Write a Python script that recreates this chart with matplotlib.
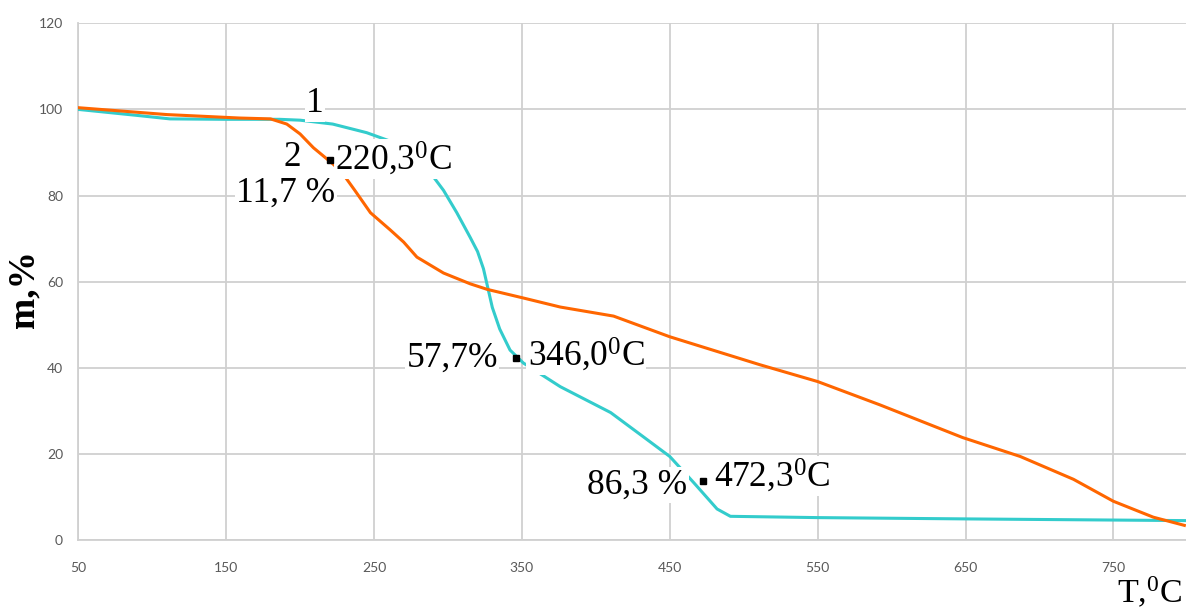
import matplotlib
matplotlib.use("Agg")
import matplotlib.pyplot as plt

plt.rcParams['mathtext.fontset'] = 'custom'
plt.rcParams['mathtext.rm'] = 'Liberation Serif'
plt.rcParams['mathtext.bf'] = 'Liberation Serif:bold'

# TG curves: sample 1 (cyan) and sample 2 (orange)
t1 = [50, 70, 90, 112, 150, 186, 200, 222, 245, 266, 280, 297, 306, 315, 320,
      324, 327, 330, 335, 342, 351, 376, 410, 432, 450, 466, 482, 491, 550, 650,
      800]
m1 = [100.0, 99.3, 98.6, 97.8, 97.7, 97.7, 97.5, 96.6, 94.6, 92.0, 89.0, 81.2,
      76.0, 70.3, 67.0, 63.0, 58.5, 54.0, 49.0, 44.1, 41.1, 35.6, 29.6, 24.0,
      19.4, 13.4, 7.2, 5.5, 5.2, 4.9, 4.5]

t2 = [50, 80, 110, 159, 180, 191, 200, 209, 222, 228, 237, 247.6, 261, 270,
      279, 297, 315, 326.6, 351, 376, 412, 450, 511, 550, 592, 648, 687, 723,
      750, 777, 798]
m2 = [100.4, 99.6, 98.8, 98.0, 97.8, 96.6, 94.3, 91.1, 87.4, 85.5, 81.2, 76.0,
      72.0, 69.2, 65.7, 62.0, 59.5, 58.2, 56.2, 54.1, 52.0, 47.2, 40.7, 36.8,
      31.4, 23.8, 19.4, 14.1, 9.0, 5.3, 3.4]

# marked points: temperature and mass loss
dot_t = [220.3, 346.0, 472.3]
dot_loss = [11.7, 57.7, 86.3]

x_ticks = [50, 150, 250, 350, 450, 550, 650, 750]
y_ticks = [0, 20, 40, 60, 80, 100, 120]

serif = 'Liberation Serif'
fs = 25.5

fig = plt.figure(figsize=(11.86, 6.10), dpi=100)
ax = fig.add_axes([78.3 / 1186, 70 / 610, 1109 / 1186, 516.7 / 610])

ax.plot(t1, m1, color='#33cccc', lw=2.2, zorder=3)
ax.plot(t2, m2, color='#ff6600', lw=2.2, zorder=3)

ax.set_xlim(50, 800)
ax.set_ylim(0, 120)
ax.set_xticks(x_ticks)
ax.set_yticks(y_ticks)
ax.grid(True, color='#d0d0d0', lw=1.3, zorder=0)
ax.set_axisbelow(True)
for side in ['top', 'right']:
    ax.spines[side].set_visible(False)
for side in ['left', 'bottom']:
    ax.spines[side].set_color('#d0d0d0')
    ax.spines[side].set_linewidth(1.3)
ax.tick_params(length=0, labelsize=10, labelcolor='#595959')
ax.tick_params(axis='x', pad=16)
ax.tick_params(axis='y', pad=11)
for lab in ax.get_xticklabels() + ax.get_yticklabels():
    lab.set_fontfamily('Lato')

box = dict(facecolor='white', edgecolor='none', pad=1)

# curve numbers
ax.text(210, 101.3, '1', family=serif, fontsize=fs, ha='center', va='center',
        bbox=box, zorder=4)
ax.text(195, 88.8, '2', family=serif, fontsize=fs, ha='center', va='center',
        zorder=4)

# dots with temperature / mass-loss labels (offsets in points)
left_off = [(-32, -24), (-13, 0), (-11, -3)]
left_ha = ['center', 'right', 'right']
right_off = [(3.5, 0.5), (8.5, 2), (8, 3.5)]
for t, loss, lo, lha, ro in zip(dot_t, dot_loss, left_off, left_ha, right_off):
    m = 100 - loss
    ax.plot(t, m, 's', color='black', ms=4, zorder=6)
    t_lab = ('%.1f' % t).replace('.', ',') + r'$\mathregular{^0}$C'
    ax.annotate(t_lab, (t, m), xytext=ro, textcoords='offset points',
                family=serif, fontsize=fs, ha='left', va='center',
                bbox=box, zorder=5)
    l_lab = ('%.1f' % loss).replace('.', ',')
    l_lab = l_lab + '%' if loss == 57.7 else l_lab + ' %'
    ax.annotate(l_lab, (t, m), xytext=lo, textcoords='offset points',
                family=serif, fontsize=fs, ha=lha, va='center',
                bbox=box, zorder=5)

fig.text(0.997, 0.011, r'T,$\mathregular{^0}$C', family=serif, fontsize=24.5,
         ha='right', va='baseline')
fig.text(0.02, 0.526, 'm,%', family=serif, fontsize=27, fontweight='bold',
         rotation=90, ha='center', va='center')

fig.savefig('out.png', dpi=100)
